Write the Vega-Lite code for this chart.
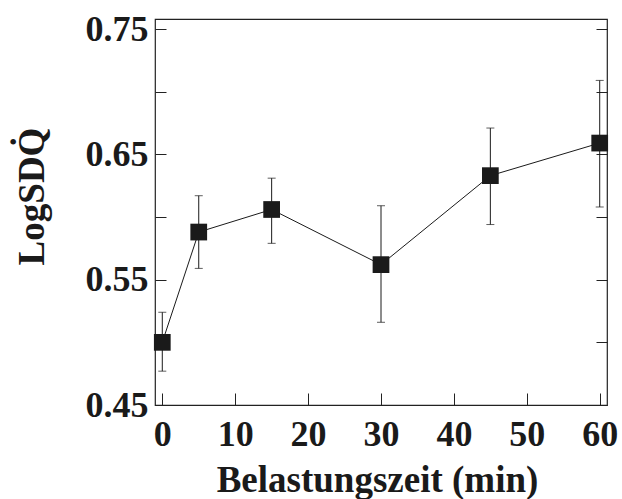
{
  "$schema": "https://vega.github.io/schema/vega-lite/v6.json",
  "width": 452,
  "height": 386,
  "autosize": {"type": "none"},
  "padding": {"left": 155, "top": 19, "right": 15, "bottom": 94},
  "background": "white",
  "config": {
    "view": {"stroke": "#222", "strokeWidth": 1.2},
    "axis": {
      "grid": false,
      "domain": false,
      "tickColor": "#222",
      "tickWidth": 1,
      "labelFont": "Liberation Serif",
      "labelFontWeight": "bold",
      "labelFontSize": 36,
      "labelColor": "#1a1a1a",
      "titleFont": "Liberation Serif",
      "titleFontWeight": "bold",
      "titleFontSize": 37,
      "titleColor": "#1a1a1a"
    }
  },
  "data": {
    "values": [
      {"t": 0, "v": 0.5, "lo": 0.477, "hi": 0.524},
      {"t": 5, "v": 0.588, "lo": 0.559, "hi": 0.617},
      {"t": 15, "v": 0.606, "lo": 0.579, "hi": 0.631},
      {"t": 30, "v": 0.562, "lo": 0.516, "hi": 0.609},
      {"t": 45, "v": 0.633, "lo": 0.594, "hi": 0.671},
      {"t": 60, "v": 0.659, "lo": 0.608, "hi": 0.709}
    ]
  },
  "resolve": {"axis": {"y": "independent"}},
  "layer": [
    {
      "mark": {"type": "rule", "color": "#1a1a1a", "strokeWidth": 1},
      "encoding": {
        "x": {
          "field": "t", "type": "quantitative",
          "scale": {"domain": [-1, 61], "nice": false},
          "axis": {
            "orient": "bottom",
            "values": [0, 10, 20, 30, 40, 50, 60],
            "tickSize": -12,
            "labelPadding": 24,
            "title": "Belastungszeit (min)",
            "titleAlign": "center",
            "titleBaseline": "alphabetic",
            "titleX": 222,
            "titleY": 86
          }
        },
        "y": {"field": "lo", "type": "quantitative", "scale": {"domain": [0.45, 0.758], "nice": false, "zero": false}, "axis": null},
        "y2": {"field": "hi"}
      }
    },
    {
      "mark": {"type": "tick", "orient": "horizontal", "size": 8, "thickness": 1, "color": "#1a1a1a"},
      "encoding": {
        "x": {"field": "t", "type": "quantitative"},
        "y": {"field": "lo", "type": "quantitative", "axis": null}
      }
    },
    {
      "mark": {"type": "tick", "orient": "horizontal", "size": 8, "thickness": 1, "color": "#1a1a1a"},
      "encoding": {
        "x": {"field": "t", "type": "quantitative"},
        "y": {"field": "hi", "type": "quantitative", "axis": null}
      }
    },
    {
      "mark": {"type": "line", "color": "#1a1a1a", "strokeWidth": 1},
      "encoding": {
        "x": {"field": "t", "type": "quantitative"},
        "y": {
          "field": "v", "type": "quantitative",
          "axis": {
            "orient": "left",
            "values": [0.45, 0.5, 0.55, 0.6, 0.65, 0.7, 0.75],
            "tickSize": -11,
            "labelPadding": 18,
            "labelExpr": "indexof(['0.45','0.55','0.65','0.75'], format(datum.value, '.2f')) >= 0 ? format(datum.value, '.2f') : ''",
            "title": "LogSDQ̇",
            "titleAngle": -90,
            "titleAlign": "center",
            "titleBaseline": "alphabetic",
            "titleX": -112,
            "titleY": 177
          }
        }
      }
    },
    {
      "mark": {"type": "point", "shape": "square", "filled": true, "size": 280, "color": "#1a1a1a", "opacity": 1},
      "encoding": {
        "x": {"field": "t", "type": "quantitative"},
        "y": {
          "field": "v", "type": "quantitative",
          "axis": {
            "orient": "right",
            "values": [0.45, 0.5, 0.55, 0.6, 0.65, 0.7, 0.75],
            "tickSize": -11,
            "labels": false,
            "title": null
          }
        }
      }
    }
  ]
}
